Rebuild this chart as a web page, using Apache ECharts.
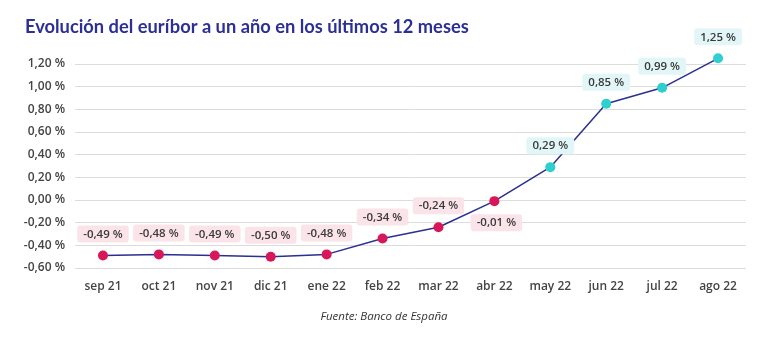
<!DOCTYPE html>
<html><head><meta charset="utf-8">
<script src="https://cdn.jsdelivr.net/npm/echarts@6/dist/echarts.min.js"></script>
<style>html,body{margin:0;padding:0;background:#fff}#c{width:768px;height:349px}</style>
</head><body><div id="c"></div>
<script>
const categories = ['sep 21','oct 21','nov 21','dic 21','ene 22','feb 22','mar 22','abr 22','may 22','jun 22','jul 22','ago 22'];
const values = [-0.49,-0.48,-0.49,-0.50,-0.48,-0.34,-0.24,-0.01,0.29,0.85,0.99,1.25];
const titleText = 'Evolución del euríbor a un año en los últimos 12 meses';
const sourceText = 'Fuente: Banco de España';

const fmt = v => v.toFixed(2).replace('.', ',') + ' %';
const data = values.map((v, i) => {
  const neg = v < 0;
  return {
    value: v,
    itemStyle: { color: neg ? '#d8175b' : '#2fcfcf' },
    label: {
      show: true,
      position: i === 7 ? 'bottom' : 'top',
      distance: 8,
      offset: i === 7 ? [2, 0] : [0, 0],
      formatter: () => fmt(v),
      backgroundColor: neg ? '#fbe3ea' : '#e2f6f7',
      color: '#3a3a3a',
      fontSize: 11.5,
      fontWeight: 600,
      fontFamily: 'Open Sans',
      padding: [3, 6, 2, 6],
      borderRadius: 3
    }
  };
});

const chart = echarts.init(document.getElementById('c'));
chart.setOption({
  backgroundColor: '#ffffff',
  animation: false,
  title: [{
    text: titleText, left: 20, top: 13,
    textStyle: { color: '#2b2f96', fontSize: 18.3, fontWeight: 'bold', fontFamily: 'Lato' }
  }, {
    text: sourceText, left: 'center', top: 311,
    textStyle: { color: '#333', fontSize: 11.5, fontStyle: 'italic', fontWeight: 'normal', fontFamily: 'Open Sans' },
    padding: 0
  }],
  grid: { left: 75, right: 22, top: 64, bottom: 81 },
  xAxis: {
    type: 'category', data: categories, boundaryGap: true,
    axisLine: { show: false }, axisTick: { show: false },
    axisLabel: { color: '#444', fontSize: 12, fontWeight: 600, fontFamily: 'Open Sans', margin: 13 }
  },
  yAxis: {
    type: 'value', min: -0.6, max: 1.2, interval: 0.2,
    axisLine: { show: false }, axisTick: { show: false },
    splitLine: { lineStyle: { color: '#dcdcdc', width: 1 } },
    axisLabel: { color: '#444', fontSize: 12, fontWeight: 600, fontFamily: 'Open Sans', margin: 10,
      formatter: v => fmt(v) }
  },
  series: [{
    type: 'line', data: data, clip: false,
    symbol: 'circle', symbolSize: 10,
    lineStyle: { color: '#2b2f8f', width: 1.5 },
    z: 3
  }]
});
</script></body></html>
